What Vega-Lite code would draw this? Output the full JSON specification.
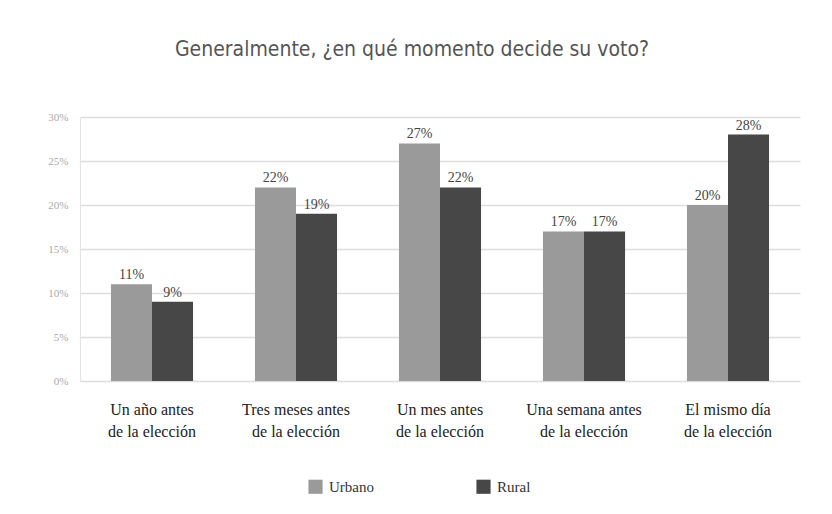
{
  "$schema": "https://vega.github.io/schema/vega-lite/v6.json",
  "width": 720,
  "height": 264,
  "autosize": {"type": "none"},
  "padding": {"left": 80, "top": 117, "right": 32, "bottom": 133},
  "background": "white",
  "config": {"view": {"stroke": null}},
  "title": {
    "text": "Generalmente, ¿en qué momento decide su voto?",
    "font": "DejaVu Sans Condensed",
    "fontSize": 21,
    "fontWeight": "normal",
    "color": "#555555",
    "anchor": "middle",
    "dx": -28,
    "offset": 51
  },
  "data": {
    "values": [
      {"momento": "Un año antes|de la elección", "zona": "Urbano", "valor": 11},
      {"momento": "Un año antes|de la elección", "zona": "Rural", "valor": 9},
      {"momento": "Tres meses antes|de la elección", "zona": "Urbano", "valor": 22},
      {"momento": "Tres meses antes|de la elección", "zona": "Rural", "valor": 19},
      {"momento": "Un mes antes|de la elección", "zona": "Urbano", "valor": 27},
      {"momento": "Un mes antes|de la elección", "zona": "Rural", "valor": 22},
      {"momento": "Una semana antes|de la elección", "zona": "Urbano", "valor": 17},
      {"momento": "Una semana antes|de la elección", "zona": "Rural", "valor": 17},
      {"momento": "El mismo día|de la elección", "zona": "Urbano", "valor": 20},
      {"momento": "El mismo día|de la elección", "zona": "Rural", "valor": 28}
    ]
  },
  "transform": [{"calculate": "datum.valor + '%'", "as": "etiqueta"}],
  "encoding": {
    "x": {
      "field": "momento",
      "type": "nominal",
      "sort": ["Un año antes|de la elección", "Tres meses antes|de la elección", "Un mes antes|de la elección", "Una semana antes|de la elección", "El mismo día|de la elección"],
      "title": null,
      "scale": {"paddingInner": 0.43, "paddingOuter": 0.215},
      "axis": {
        "labelExpr": "split(datum.label, '|')",
        "labelAngle": 0,
        "labelFont": "Liberation Serif",
        "labelFontSize": 16,
        "labelColor": "#222222",
        "labelPadding": 20,
        "labelLineHeight": 22,
        "ticks": false,
        "domain": false,
        "grid": false
      }
    },
    "xOffset": {"field": "zona", "type": "nominal", "sort": ["Urbano", "Rural"], "scale": {"paddingInner": 0}},
    "y": {
      "field": "valor",
      "type": "quantitative",
      "title": null,
      "scale": {"domain": [0, 30]},
      "axis": {
        "values": [0, 5, 10, 15, 20, 25, 30],
        "labelExpr": "datum.value + '%'",
        "labelFont": "Liberation Serif",
        "labelFontSize": 11,
        "labelColor": "#aaaaaa",
        "labelPadding": 12,
        "ticks": false,
        "domain": true,
        "domainColor": "#e4e4e4",
        "gridColor": "#dddddd",
        "gridWidth": 1.5
      }
    }
  },
  "layer": [
    {
      "mark": {"type": "bar"},
      "encoding": {
        "color": {
          "field": "zona",
          "type": "nominal",
          "sort": ["Urbano", "Rural"],
          "scale": {"domain": ["Urbano", "Rural"], "range": ["#9a9a9a", "#474747"]},
          "legend": {
            "title": null,
            "orient": "none",
            "legendX": 228,
            "legendY": 362,
            "direction": "horizontal",
            "symbolType": "square",
            "symbolSize": 200,
            "symbolStrokeWidth": 0,
            "labelFont": "Liberation Serif",
            "labelFontSize": 15,
            "labelColor": "#333333",
            "columnPadding": 102,
            "labelOffset": 6
          }
        }
      }
    },
    {
      "mark": {"type": "text", "dy": -9, "font": "Liberation Serif", "fontSize": 14, "color": "#444444"},
      "encoding": {
        "text": {"field": "etiqueta", "type": "nominal"}
      }
    }
  ]
}
